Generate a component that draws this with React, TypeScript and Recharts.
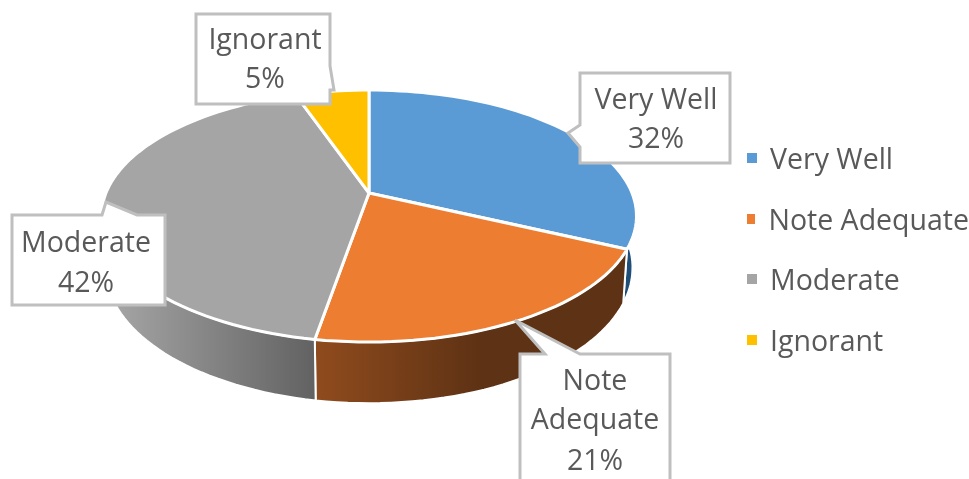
import React from "react";
import { Legend, Pie, PieChart } from "recharts";

const categories = ["Very Well", "Note Adequate", "Moderate", "Ignorant"];
const shares = [32, 20.7, 42, 5.3];
const colors = ["#5b9bd5", "#ed7d31", "#a5a5a5", "#ffc000"];
const wallFills = ["#1f4e79", "url(#wallOrange)", "url(#wallGray)", "#7f6000"];

const tableData = categories.map((name, i) => ({ name, value: shares[i], fill: colors[i] }));

// 3D look: circle pushed through a simple perspective
const CX = 369;
const CY = 193;
const RX = 263;
const RY = 121.8;
const PERSP = 0.1827;
const DEPTH = 50;
const FONT = "'Open Sans', sans-serif";
const FONT_SIZE = 28.5;
const TEXT = "#595959";

// theta is clockwise from 12 o'clock, in degrees
function rimPoint(theta: number, bottom = false) {
  const rad = (theta * Math.PI) / 180;
  const u = Math.sin(rad);
  const v = -Math.cos(rad);
  const w = 1 - PERSP * v;
  let x = (RX * u) / w;
  let y = (RY * v) / w;
  if (bottom) {
    x *= 0.985;
    y += DEPTH / w;
  }
  return [CX + x, CY + y];
}

function arcPoints(a: number, b: number, bottom = false) {
  const n = Math.max(2, Math.ceil(Math.abs(b - a) / 2));
  const pts: string[] = [];
  for (let i = 0; i <= n; i++) {
    const [x, y] = rimPoint(a + ((b - a) * i) / n, bottom);
    pts.push(`${x.toFixed(1)} ${y.toFixed(1)}`);
  }
  return pts;
}

function TopSlice(props: any) {
  const a = 90 - props.startAngle;
  const b = 90 - props.endAngle;
  const d = `M${CX} ${CY} L${arcPoints(a, b).join(" L")} Z`;
  return <path d={d} fill={props.fill} stroke="#fff" strokeWidth={3} strokeLinejoin="round" />;
}

function WallSlice(props: any) {
  const a = Math.max(88, 90 - props.startAngle);
  const b = Math.min(272, 90 - props.endAngle);
  if (b <= a) return <g />;
  const d = `M${arcPoints(a, b).join(" L")} L${arcPoints(b, a, true).join(" L")} Z`;
  return <path d={d} fill={wallFills[props.index ?? categories.indexOf(props.name)]} stroke="#fff" strokeWidth={2} />;
}

const callouts = [
  {
    box: "M580 73 H730 V163 H580 V147 L568 133 L580 125 Z",
    x: 656,
    ys: [109, 148],
    lines: ["Very Well"],
  },
  {
    box: "M520 354 H545 L515 320 L580 354 H670 V490 H520 Z",
    x: 595,
    ys: [390, 429, 470],
    lines: ["Note", "Adequate"],
  },
  {
    box: "M12 215 H102 L106 202 L137 215 H165 V305 H12 Z",
    x: 86,
    ys: [252, 292],
    lines: ["Moderate"],
  },
  {
    box: "M196 14 H330 V66 L334 90 L330 90 V104 H196 Z",
    x: 265,
    ys: [49, 88],
    lines: ["Ignorant"],
  },
];

function Callout(props: any) {
  const c = callouts[props.index];
  const rows = [...c.lines, `${Math.round(shares[props.index])}%`];
  return (
    <g>
      <path d={c.box} fill="#fff" stroke="#bfbfbf" strokeWidth={3} />
      {rows.map((row, i) => (
        <text key={row} x={c.x} y={c.ys[i]} textAnchor="middle" fontFamily={FONT} fontSize={FONT_SIZE} fill={TEXT}>
          {row}
        </text>
      ))}
    </g>
  );
}

function SideLegend() {
  return (
    <div>
      {tableData.map((d) => (
        <div key={d.name} style={{ display: "flex", alignItems: "center", height: 60.5, whiteSpace: "nowrap" }}>
          <span style={{ width: 10, height: 10, background: d.fill, marginRight: 13 }} />
          <span style={{ fontFamily: FONT, fontSize: FONT_SIZE, color: TEXT }}>{d.name}</span>
        </div>
      ))}
    </div>
  );
}

export default function App() {
  return (
    <div
      style={{
        position: "absolute",
        left: 0,
        top: 0,
        width: 969,
        height: 479,
        background: "#fff",
        overflow: "hidden",
        filter: "blur(0.7px)",
      }}
    >
      <PieChart width={969} height={479} margin={{ top: 0, right: 0, bottom: 0, left: 0 }}>
        <defs>
          <linearGradient id="wallGray" gradientUnits="userSpaceOnUse" x1={110} y1={0} x2={317} y2={0}>
            <stop offset="0" stopColor="#a6a6a6" />
            <stop offset="1" stopColor="#616161" />
          </linearGradient>
          <linearGradient id="wallOrange" gradientUnits="userSpaceOnUse" x1={317} y1={0} x2={480} y2={0}>
            <stop offset="0" stopColor="#8f4b1d" />
            <stop offset="1" stopColor="#5e3214" />
          </linearGradient>
        </defs>
        <Pie
          data={tableData}
          dataKey="value"
          nameKey="name"
          cx={CX}
          cy={CY}
          outerRadius={RX}
          startAngle={90}
          endAngle={-270}
          paddingAngle={0}
          shape={WallSlice}
          legendType="none"
          isAnimationActive={false}
        />
        <Pie
          data={tableData}
          dataKey="value"
          nameKey="name"
          cx={CX}
          cy={CY}
          outerRadius={RX}
          startAngle={90}
          endAngle={-270}
          paddingAngle={0}
          shape={TopSlice}
          label={Callout}
          labelLine={false}
          isAnimationActive={false}
        />
        <Legend content={SideLegend} wrapperStyle={{ left: 747, top: 128, bottom: "auto", width: 222 }} />
      </PieChart>
    </div>
  );
}
